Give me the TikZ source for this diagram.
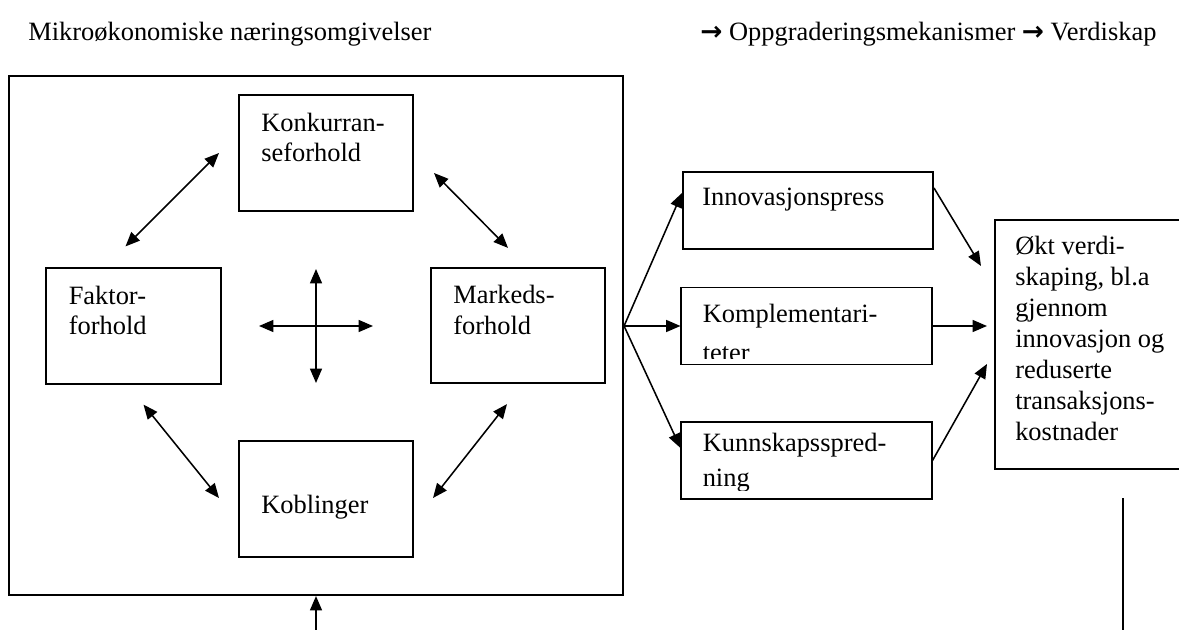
\documentclass[tikz,border=0pt]{standalone}
\usepackage{fontspec}
\setmainfont{Liberation Serif}
\newfontfamily\pilfont{DejaVu Sans}
\usetikzlibrary{arrows.meta, positioning, calc}
\tikzset{
>={Triangle[length=0.36cm, width=0.3cm]}, % filled arrow heads
tekst/.style={font=\fontsize{18.8}{22}\selectfont, align=left, inner sep=0pt, anchor=north west}, % text set inside the boxes
boks/.style={draw, line width=1.4pt, minimum width=4.35cm, minimum height=2.88cm, inner sep=0pt}, % the four boxes of the diamond
mekboks/.style={boks, minimum width=6.25cm, minimum height=1.925cm}, % the mechanism boxes
pil/.style={->, line width=1.1pt}, % one-way arrow
dobbelpil/.style={<->, line width=1.1pt}, % two-way arrow
}

\begin{document}
\begin{tikzpicture}[x=0.025cm, y=-0.025cm]
  \useasboundingbox (0,0) rectangle (1179,630);
  \clip (0,0) rectangle (1179,630);

  \node[tekst] (mikro) at (28,22) {Mikroøkonomiske næringsomgivelser};
  \node[tekst] (mek) at (700,22) {{\pilfont\bfseries →} Oppgraderingsmekanismer {\pilfont\bfseries →} Verdiskap};

  \node[boks, minimum width=15.35cm, minimum height=12.975cm] (omg) at (316,335.5) {};
  \node[boks] (konk) at (326,153) {};
  \node[boks] (faktor) at (133.5,326) {};
  \node[boks] (marked) at (518,325.5) {};
  \node[boks] (kobl) at (326,499) {};

  \node[tekst] (konktxt) at ($(konk.north west)+(23,18)$) {Konkurran-\\seforhold};
  \node[tekst] (faktortxt) at ($(faktor.north west)+(23,18)$) {Faktor-\\forhold};
  \node[tekst] (markedtxt) at ($(marked.north west)+(23,18)$) {Markeds-\\forhold};
  \node[tekst] (kobltxt) at ($(kobl.north west)+(23,54)$) {Koblinger};

  \node[mekboks] (innov) at (808,210.5) {};
  \node[mekboks] (komp) at (806.5,326) {};
  \node[mekboks] (kunn) at (806.5,460.5) {};
  \node[boks, minimum width=4.875cm, minimum height=6.225cm] (verdi) at (1092.5,344.5) {};

  \node[tekst] (innovtxt) at ($(innov.north west)+(20,17)$) {Innovasjonspress};
  \begin{scope}
    \clip (komp.north west) rectangle ($(komp.south east)+(0,-7)$);
    \node[tekst] (komptxt) at ($(komp.north west)+(22,17)$) {Komplementari-\\[6pt]teter};
  \end{scope}
  \begin{scope}
    \clip (kunn.north west) rectangle ($(kunn.south east)+(0,-9)$);
    \node[tekst] (kunntxt) at ($(kunn.north west)+(22,12)$) {Kunnskapsspred-\\[3pt]ning};
  \end{scope}
  \node[tekst] (verditxt) at ($(verdi.north west)+(21,17)$) {Økt verdi-\\skaping, bl.a\\gjennom\\innovasjon og\\reduserte\\transaksjons-\\kostnader};

  % diamond of two-way arrows
  \draw[dobbelpil] ($(faktor.north)+(-8,-21)$) -- ($(konk.west)+(-19,0)$);
  \draw[dobbelpil] ($(konk.east)+(20,20)$) -- ($(marked.north)+(-10,-19)$);
  \draw[dobbelpil] ($(faktor.south)+(10,20)$) -- ($(kobl.west)+(-19,-1)$);
  \draw[dobbelpil] ($(kobl.east)+(19,-1)$) -- ($(marked.south)+(-11,20)$);

  % cross in the middle
  \coordinate (midt) at (316,326);
  \foreach \navn/\dx/\dy in {v/-57/0, h/57/0, o/0/-57, n/0/57}
    \coordinate (kryss\navn) at ($(midt)+(\dx,\dy)$);
  \foreach \navn in {v,h,o,n}
    \draw[pil] (midt) -- (kryss\navn);

  % fan out to the mechanisms
  \coordinate (vifte) at (omg.east |- komp.west);
  \draw[pil] (vifte) -- ($(innov.west)+(0,-17.5)$);
  \draw[pil] (vifte) -- (komp.west);
  \draw[pil] (vifte) -- ($(kunn.west)+(0,-12.5)$);
  \draw[pil] ($(innov.east)+(0,-22.5)$) -- ($(verdi.north west)+(-13,47)$);
  \draw[pil] (komp.east) -- ($(verdi.west |- komp.east)+(-7,0)$);
  \draw[pil] (kunn.east) -- ($(verdi.north west)+(-7,145)$);

  % feedback lines at the bottom
  \coordinate (bunn) at (316,630);
  \draw[pil] (bunn) -- (omg.south);
  \coordinate (linjetopp) at (1123,498);
  \coordinate (linjebunn) at (1123,630);
  \draw[line width=1.3pt] (linjetopp) -- (linjebunn);
\end{tikzpicture}
\end{document}
